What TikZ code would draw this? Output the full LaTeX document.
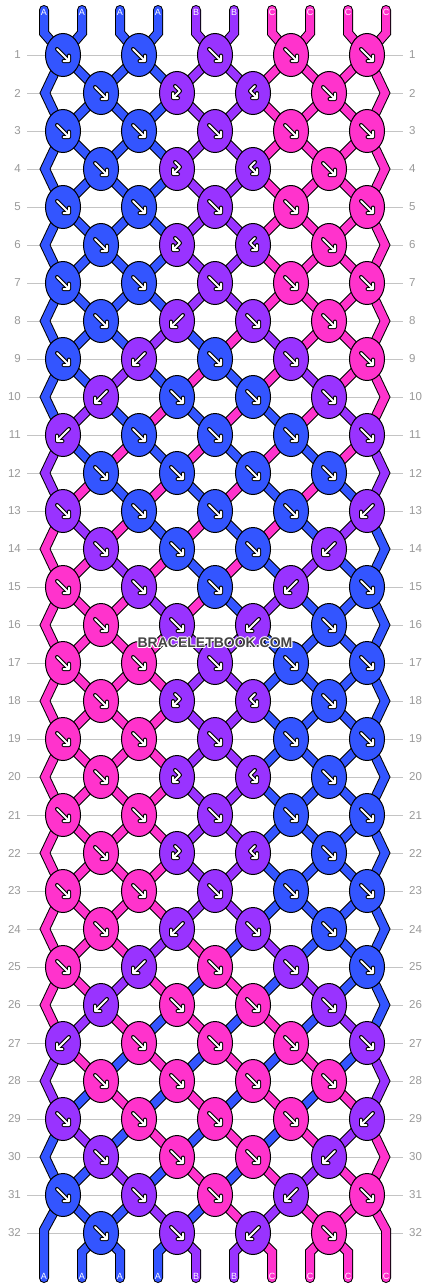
\documentclass[tikz,border=0pt]{standalone}
\usepackage{fontspec}
\setmainfont{Liberation Sans}
\usetikzlibrary{shapes.geometric}
\definecolor{A}{HTML}{3355FF}
\definecolor{B}{HTML}{9933FF}
\definecolor{C}{HTML}{FF33CC}
\definecolor{lblc}{HTML}{999999}
\definecolor{gridc}{HTML}{C4C4C4}
\definecolor{wmc}{HTML}{444444}
\pgfdeclarelayer{lyrgrid}
\pgfdeclarelayer{lyrout}
\pgfdeclarelayer{lyrfill}
\pgfsetlayers{lyrgrid,lyrout,lyrfill,main}

\newcommand\defst[2]{\expandafter\def\csname st#1\endcsname{#2}}
\newcommand\defkn[2]{\expandafter\def\csname kn#1\endcsname{#2}}

% thread colours after each row
\defst{0}{A,A,A,A,B,B,C,C,C,C}
\defst{1}{A,A,A,A,B,B,C,C,C,C}
\defst{2}{A,A,A,A,B,B,C,C,C,C}
\defst{3}{A,A,A,A,B,B,C,C,C,C}
\defst{4}{A,A,A,A,B,B,C,C,C,C}
\defst{5}{A,A,A,A,B,B,C,C,C,C}
\defst{6}{A,A,A,A,B,B,C,C,C,C}
\defst{7}{A,A,A,A,B,B,C,C,C,C}
\defst{8}{A,A,A,B,A,C,B,C,C,C}
\defst{9}{A,A,B,A,C,A,C,B,C,C}
\defst{10}{A,B,A,C,A,C,A,C,B,C}
\defst{11}{B,A,C,A,C,A,C,A,C,B}
\defst{12}{B,C,A,C,A,C,A,C,A,B}
\defst{13}{C,B,C,A,C,A,C,A,B,A}
\defst{14}{C,C,B,C,A,C,A,B,A,A}
\defst{15}{C,C,C,B,C,A,B,A,A,A}
\defst{16}{C,C,C,C,B,B,A,A,A,A}
\defst{17}{C,C,C,C,B,B,A,A,A,A}
\defst{18}{C,C,C,C,B,B,A,A,A,A}
\defst{19}{C,C,C,C,B,B,A,A,A,A}
\defst{20}{C,C,C,C,B,B,A,A,A,A}
\defst{21}{C,C,C,C,B,B,A,A,A,A}
\defst{22}{C,C,C,C,B,B,A,A,A,A}
\defst{23}{C,C,C,C,B,B,A,A,A,A}
\defst{24}{C,C,C,B,C,A,B,A,A,A}
\defst{25}{C,C,B,C,A,C,A,B,A,A}
\defst{26}{C,B,C,A,C,A,C,A,B,A}
\defst{27}{B,C,A,C,A,C,A,C,A,B}
\defst{28}{B,A,C,A,C,A,C,A,C,B}
\defst{29}{A,B,A,C,A,C,A,C,B,C}
\defst{30}{A,A,B,A,C,A,C,B,C,C}
\defst{31}{A,A,A,B,A,C,B,C,C,C}
\defst{32}{A,A,A,A,B,B,C,C,C,C}

% knots: colour / type (0 forward, 1 backward, 2 and 3 double knots)
\defkn{1}{A/0,A/0,B/0,C/0,C/0}
\defkn{2}{A/0,B/2,B/3,C/0}
\defkn{3}{A/0,A/0,B/0,C/0,C/0}
\defkn{4}{A/0,B/2,B/3,C/0}
\defkn{5}{A/0,A/0,B/0,C/0,C/0}
\defkn{6}{A/0,B/2,B/3,C/0}
\defkn{7}{A/0,A/0,B/0,C/0,C/0}
\defkn{8}{A/0,B/1,B/0,C/0}
\defkn{9}{A/0,B/1,A/0,B/0,C/0}
\defkn{10}{B/1,A/0,A/0,B/0}
\defkn{11}{B/1,A/0,A/0,A/0,B/0}
\defkn{12}{A/0,A/0,A/0,A/0}
\defkn{13}{B/0,A/0,A/0,A/0,B/1}
\defkn{14}{B/0,A/0,A/0,B/1}
\defkn{15}{C/0,B/0,A/0,B/1,A/0}
\defkn{16}{C/0,B/0,B/1,A/0}
\defkn{17}{C/0,C/0,B/0,A/0,A/0}
\defkn{18}{C/0,B/2,B/3,A/0}
\defkn{19}{C/0,C/0,B/0,A/0,A/0}
\defkn{20}{C/0,B/2,B/3,A/0}
\defkn{21}{C/0,C/0,B/0,A/0,A/0}
\defkn{22}{C/0,B/2,B/3,A/0}
\defkn{23}{C/0,C/0,B/0,A/0,A/0}
\defkn{24}{C/0,B/1,B/0,A/0}
\defkn{25}{C/0,B/1,C/0,B/0,A/0}
\defkn{26}{B/1,C/0,C/0,B/0}
\defkn{27}{B/1,C/0,C/0,C/0,B/0}
\defkn{28}{C/0,C/0,C/0,C/0}
\defkn{29}{B/0,C/0,C/0,C/0,B/1}
\defkn{30}{B/0,C/0,C/0,B/1}
\defkn{31}{A/0,B/0,C/0,B/1,C/0}
\defkn{32}{A/0,B/0,B/1,C/0}

\newcommand\kgdraw[1]{%
  \draw[black,line width=4pt,line cap=round,line join=round] #1;
  \draw[white,line width=2pt,line cap=round,line join=round] #1;}

\tikzset{
  thr/.style={line width=\lw, draw=\dc, line cap=round, line join=miter},
  knot/.style={ellipse, draw=black, line width=1pt, minimum width=35pt,
    minimum height=43pt, inner sep=0pt},
  rowlbl/.style={text=lblc, font=\fontsize{11.5}{12}\selectfont, inner sep=0pt},
  strandlbl/.style={text=white, font=\fontsize{9}{10}\selectfont, inner sep=0pt},
  wmark/.style={font=\bfseries\fontsize{14}{14}\selectfont, inner sep=0pt}
}

\newcommand\drawthreads{%
\foreach \r in {0,...,32} {%
  \edef\curst{\csname st\r\endcsname}%
  \pgfmathtruncatemacro\rn{\r+1}%
  \pgfmathtruncatemacro\rnn{\r+2}%
  \foreach \kc [count=\ii from 0] in \curst {%
    \pgfmathtruncatemacro\jh{floor(\ii/2)}%
    \pgfmathtruncatemacro\jl{floor((\ii-1)/2)}%
    \pgfmathsetmacro\xs{44+38*\ii}%
    \ifnum\pass=0 \def\lw{10pt}\def\dc{black}\else\def\lw{8pt}\def\dc{\kc}\fi
    \ifnum\r=0
      \draw[thr] (\xs,10) -- (\xs,33) -- (k-1-\jh.center);
    \else
      \ifodd\r\relax
        \ifnum\r=31
          \ifnum\ii=0 \draw[thr] (k-31-0.center) -- (44,1230) -- (44,1278);
          \else\ifnum\ii=9 \draw[thr] (k-31-4.center) -- (386,1230) -- (386,1278);
          \else \draw[thr] (k-31-\jh.center) -- (k-32-\jl.center);
          \fi\fi
        \else
          \ifnum\ii=0 \draw[thr] (k-\r-0.center) -- (e-\rn-L) -- (k-\rnn-0.center);
          \else\ifnum\ii=9 \draw[thr] (k-\r-4.center) -- (e-\rn-R) -- (k-\rnn-4.center);
          \else \draw[thr] (k-\r-\jh.center) -- (k-\rn-\jl.center);
          \fi\fi
        \fi
      \else
        \ifnum\r=32
          \ifnum\ii>0 \ifnum\ii<9 \draw[thr] (k-32-\jl.center) -- (\xs,1252) -- (\xs,1278); \fi\fi
        \else
          \ifnum\ii>0 \ifnum\ii<9 \draw[thr] (k-\r-\jl.center) -- (k-\rn-\jh.center); \fi\fi
        \fi
      \fi
    \fi
  }%
}}

\begin{document}
\begin{tikzpicture}[x=1pt,y=-1pt]
\useasboundingbox (0,0) rectangle (430,1288);
\begin{pgfonlayer}{lyrgrid}
  \fill[white] (0,0) rectangle (430,1288);
  \foreach \r in {1,...,32} {
    \pgfmathsetmacro\yy{55+38*(\r-1)}
    \draw[gridc, line width=1pt] (27,\yy) -- (403,\yy);
    \node[rowlbl, anchor=east] (ll-\r) at (21,\yy) {\r};
    \node[rowlbl, anchor=west] (rl-\r) at (409,\yy) {\r};
  }
\end{pgfonlayer}

% knots
\foreach \r in {1,...,32} {
  \edef\curk{\csname kn\r\endcsname}
  \pgfmathsetmacro\yy{55+38*(\r-1)}
  \foreach \kc/\kt [count=\jj from 0] in \curk {
    \ifodd\r\relax \pgfmathsetmacro\xx{63+76*\jj}\else \pgfmathsetmacro\xx{101+76*\jj}\fi
    \node[knot, fill=\kc] (k-\r-\jj) at (\xx,\yy) {};
    \begin{scope}[shift={(k-\r-\jj.center)}]
      \ifcase\kt\relax
        \kgdraw{(-6,-6) -- (6,6) (0.5,6) -- (6,6) -- (6,0.5)}
      \or
        \kgdraw{(6,-6) -- (-6,6) (-0.5,6) -- (-6,6) -- (-6,0.5)}
      \or
        \kgdraw{(-2,-7) -- (3,-2) -- (-4,5) (1,5) -- (-4,5) -- (-4,0)}
      \or
        \kgdraw{(2,-7) -- (-3,-2) -- (4,5) (-1,5) -- (4,5) -- (4,0)}
      \fi
    \end{scope}
  }
  \ifodd\r\relax\else
    \coordinate (e-\r-L) at (45,\yy);
    \coordinate (e-\r-R) at (385,\yy);
  \fi
}

% threads
\begin{pgfonlayer}{lyrout}
  \def\pass{0}\drawthreads
\end{pgfonlayer}
\begin{pgfonlayer}{lyrfill}
  \def\pass{1}\drawthreads
\end{pgfonlayer}

% strand letters
\foreach \L [count=\ii from 0] in {A,A,A,A,B,B,C,C,C,C} {
  \pgfmathsetmacro\xs{44+38*\ii}
  \node[strandlbl] (tl-\ii) at (\xs,12) {\L};
  \node[strandlbl] (bl-\ii) at (\xs,1276) {\L};
}

% watermark with light halo
\foreach \dx/\dy [count=\hh] in {-1/0,1/0,0/-1,0/1,-0.8/-0.8,0.8/0.8,-0.8/0.8,0.8/-0.8} {
  \node[wmark, text=white] (wmh-\hh) at (215+\dx,643+\dy) {BRACELETBOOK.COM};
}
\node[wmark, text=wmc] (wm) at (215,643) {BRACELETBOOK.COM};
\end{tikzpicture}
\end{document}
